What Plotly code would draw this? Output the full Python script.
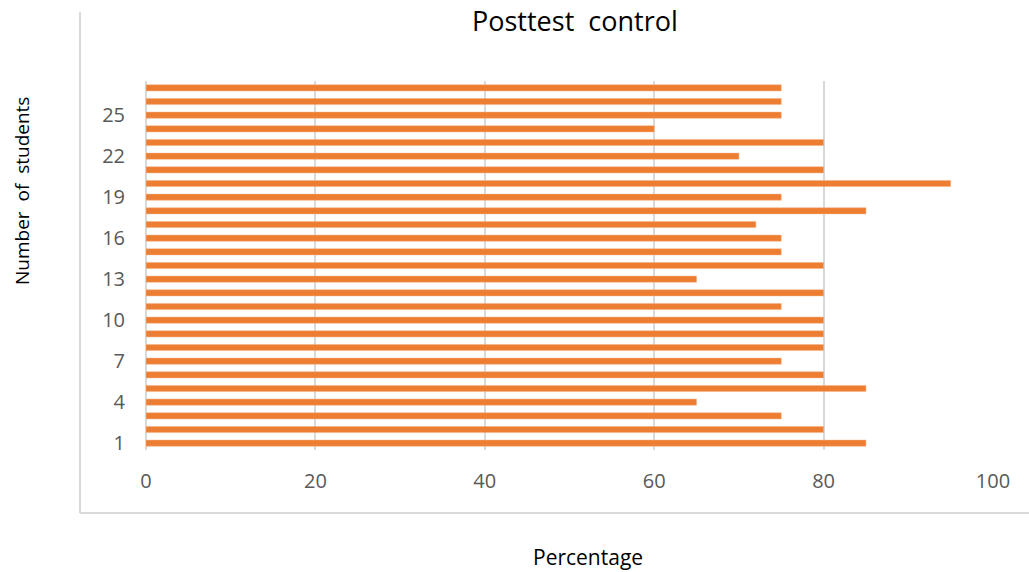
import plotly.graph_objects as go

students = list(range(1, 28))
percentage = [85, 80, 75, 65, 85, 80, 75, 80, 80, 80, 75, 80, 65, 80, 75,
              75, 72, 85, 75, 95, 80, 70, 80, 60, 75, 75, 75]
x_ticks = [0, 20, 40, 60, 80, 100]
y_ticks = list(range(1, 28, 3))

title_text = "Posttest  control"
x_title = "Percentage"
y_title = "Number  of  students"

FONT = "Open Sans"
GRID = "#d9d9d9"

fig = go.Figure()
fig.add_trace(go.Bar(
    y=students, x=percentage, orientation="h",
    marker=dict(color="#ED7D31", line=dict(color="#F4B183", width=0.5)),
))

W, H = 1029, 572
L, R, T, B = 146, 36, 81, 122
pw, ph = W - L - R, H - T - B

def px(x):
    return (x - L) / pw

def py(y):
    return (H - B - y) / ph

fig.update_layout(
    width=W, height=H,
    margin=dict(l=L, r=R, t=T, b=B),
    paper_bgcolor="white", plot_bgcolor="white",
    showlegend=False,
    bargap=0.55,
    font=dict(family=FONT, color="#595959"),
    xaxis=dict(range=[0, 100], tickvals=x_ticks, showgrid=True, gridcolor=GRID,
               gridwidth=2, zeroline=True, zerolinecolor=GRID, zerolinewidth=2,
               showline=False, ticks="", tickfont=dict(size=20, color="#595959"),
               ticklabelstandoff=17, fixedrange=True),
    yaxis=dict(range=[0.5, 27.5], tickvals=y_ticks, showgrid=False, zeroline=False,
               showline=False, ticks="", tickfont=dict(size=20, color="#595959"),
               ticklabelstandoff=20, fixedrange=True),
    annotations=[
        dict(text=title_text, x=px(575), y=py(20), xref="paper", yref="paper",
             showarrow=False, xanchor="center", yanchor="middle",
             font=dict(family=FONT, size=27, color="#000000")),
        dict(text=x_title, x=px(588), y=py(557), xref="paper", yref="paper",
             showarrow=False, xanchor="center", yanchor="middle",
             font=dict(family=FONT, size=21, color="#000000")),
        dict(text=y_title, x=px(22), y=py(191), xref="paper", yref="paper",
             showarrow=False, xanchor="center", yanchor="middle", textangle=-90,
             font=dict(family=FONT, size=19, color="#000000")),
    ],
    shapes=[
        dict(type="line", xref="paper", yref="paper", x0=px(80), x1=px(80),
             y0=py(12), y1=py(513), line=dict(color=GRID, width=2)),
        dict(type="line", xref="paper", yref="paper", x0=px(80), x1=px(1029),
             y0=py(513), y1=py(513), line=dict(color=GRID, width=2)),
    ],
)

fig.write_html("out.html")
